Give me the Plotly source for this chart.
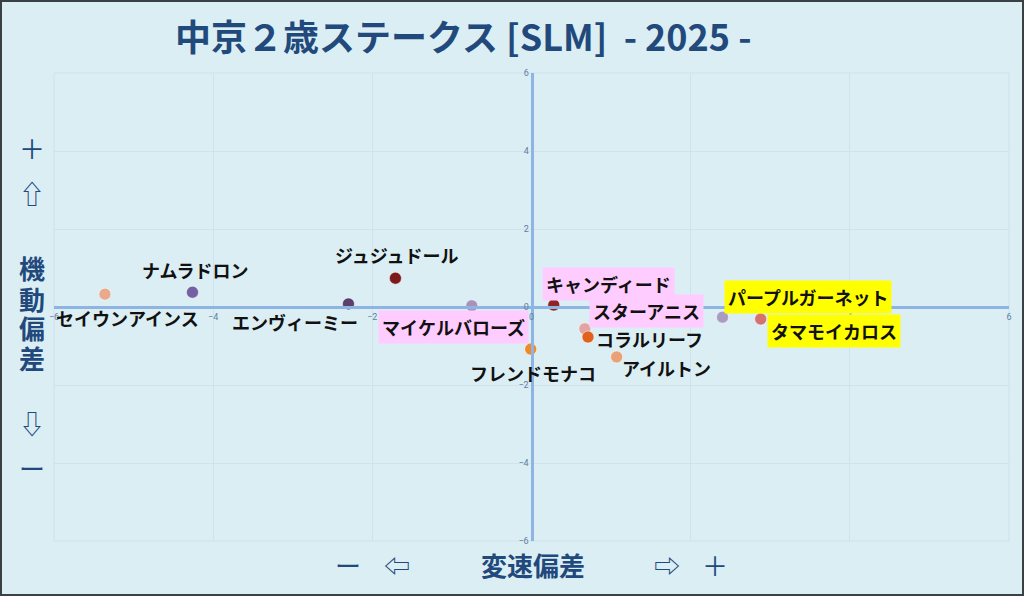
import plotly.graph_objects as go

# Horse data: speed deviation (x) and maneuver deviation (y)
horses = ['セイウンアインス', 'ナムラドロン', 'エンヴィーミー', 'ジュジュドール', 'マイケルバローズ',
          'フレンドモナコ', 'キャンディード', 'スターアニス', 'コラルリーフ', 'アイルトン',
          'パープルガーネット', 'タマモイカロス']
speed_dev = [-5.36, -4.26, -2.30, -1.71, -0.75, -0.01, 0.28, 0.67, 0.71, 1.07, 2.40, 2.88]
maneuver_dev = [0.33, 0.38, 0.08, 0.74, 0.03, -1.08, 0.05, -0.56, -0.77, -1.28, -0.26, -0.31]
dot_colors = ['#e9a98c', '#7361a3', '#5b3f6e', '#7b1c1c', '#a891bb', '#f0892a',
              '#8e2424', '#e2a3a3', '#e0621c', '#e8a275', '#aa9bc3', '#d27370']
label_bg = ['rgba(0,0,0,0)', 'rgba(0,0,0,0)', 'rgba(0,0,0,0)', 'rgba(0,0,0,0)', '#ffccff',
            'rgba(0,0,0,0)', '#ffccff', '#ffccff', 'rgba(0,0,0,0)', 'rgba(0,0,0,0)',
            '#ffff00', '#ffff00']
# label offset from its dot, in pixels
label_shift = [(23, -24), (3, 22), (-53, -18), (1, 23), (-18, -21), (2, -24),
               (55, 21), (62, 18), (61, -2), (50, -11), (85, 20), (73, -12)]

tick_vals = [-6, -4, -2, 0, 2, 4, 6]

W, H = 1024, 596
L, R, T, B = 54, 15, 73, 55
BG = '#dbeef4'
NAVY = '#22497c'
JP = 'Noto Sans CJK JP'


def paper(px, py):
    # pixel position -> paper coordinates
    return (px - L) / (W - L - R), (H - B - py) / (H - T - B)


fig = go.Figure()

fig.add_trace(go.Scatter(
    x=speed_dev,
    y=maneuver_dev,
    mode='markers',
    marker=dict(size=12, color=dot_colors, line=dict(width=1, color='rgba(255,255,255,0.5)')),
    text=horses,
    hoverinfo='text',
    showlegend=False
))

annotations = []
for name, xv, yv, bg, (dx, dy) in zip(horses, speed_dev, maneuver_dev, label_bg, label_shift):
    annotations.append(dict(
        x=xv, y=yv, xref='x', yref='y', text=name, showarrow=False,
        xanchor='center', yanchor='middle',
        xshift=dx, yshift=dy, bgcolor=bg, borderpad=3,
        font=dict(family=JP, size=18, color='#111111', weight='bold')
    ))


def paper_text(txt, px, py, size, weight):
    x, y = paper(px, py)
    return dict(x=x, y=y, xref='paper', yref='paper', showarrow=False, text=txt,
                xanchor='center', yanchor='middle',
                font=dict(family=JP, size=size, color=NAVY, weight=weight))


# Title
annotations.append(paper_text('中京２歳ステークス [SLM]  - 2025 -', 463, 35, 36, 'bold'))

# Left side axis labels
for txt, py, wt in [('＋', 147, 'normal'), ('⇧', 192, 'normal'), ('機', 267, 'bold'),
                    ('動', 298, 'bold'), ('偏', 327, 'bold'), ('差', 357, 'bold'),
                    ('⇩', 422, 'normal'), ('ー', 467, 'normal')]:
    annotations.append(paper_text(txt, 32, py, 26, wt))

# Bottom axis labels
for txt, px, wt in [('ー', 348, 'normal'), ('⇦', 397, 'normal'), ('変速偏差', 533, 'bold'),
                    ('⇨', 667, 'normal'), ('＋', 715, 'normal')]:
    annotations.append(paper_text(txt, px, 564, 26, wt))

# Outer frame
fx0, fy0 = paper(1, H - 1)
fx1, fy1 = paper(W - 1, 1)
shapes = [dict(type='rect', xref='paper', yref='paper', x0=fx0, y0=fy0, x1=fx1, y1=fy1,
               line=dict(color='#3b4045', width=2), layer='above'),
          dict(type='rect', xref='paper', yref='paper', x0=0, y0=0, x1=1, y1=1,
               line=dict(color='#cfe2ee', width=1), layer='below')]

axis_common = dict(
    range=[-6, 6],
    tickvals=tick_vals,
    showgrid=True,
    gridcolor='#cfe2ee',
    gridwidth=1,
    zeroline=False,
    showline=True,
    linecolor='#8db4e2',
    linewidth=3,
    anchor='free',
    position=0.5,
    ticks='',
    tickfont=dict(family='Roboto', size=9, color='#5f7f9f'),
    fixedrange=True
)

fig.update_layout(
    width=W,
    height=H,
    margin=dict(l=L, r=R, t=T, b=B),
    paper_bgcolor=BG,
    plot_bgcolor=BG,
    xaxis=axis_common,
    yaxis=axis_common,
    annotations=annotations,
    shapes=shapes,
    showlegend=False
)

fig.write_html("out.html", config={'displayModeBar': False},
               post_script="document.body.style.margin='0';")
